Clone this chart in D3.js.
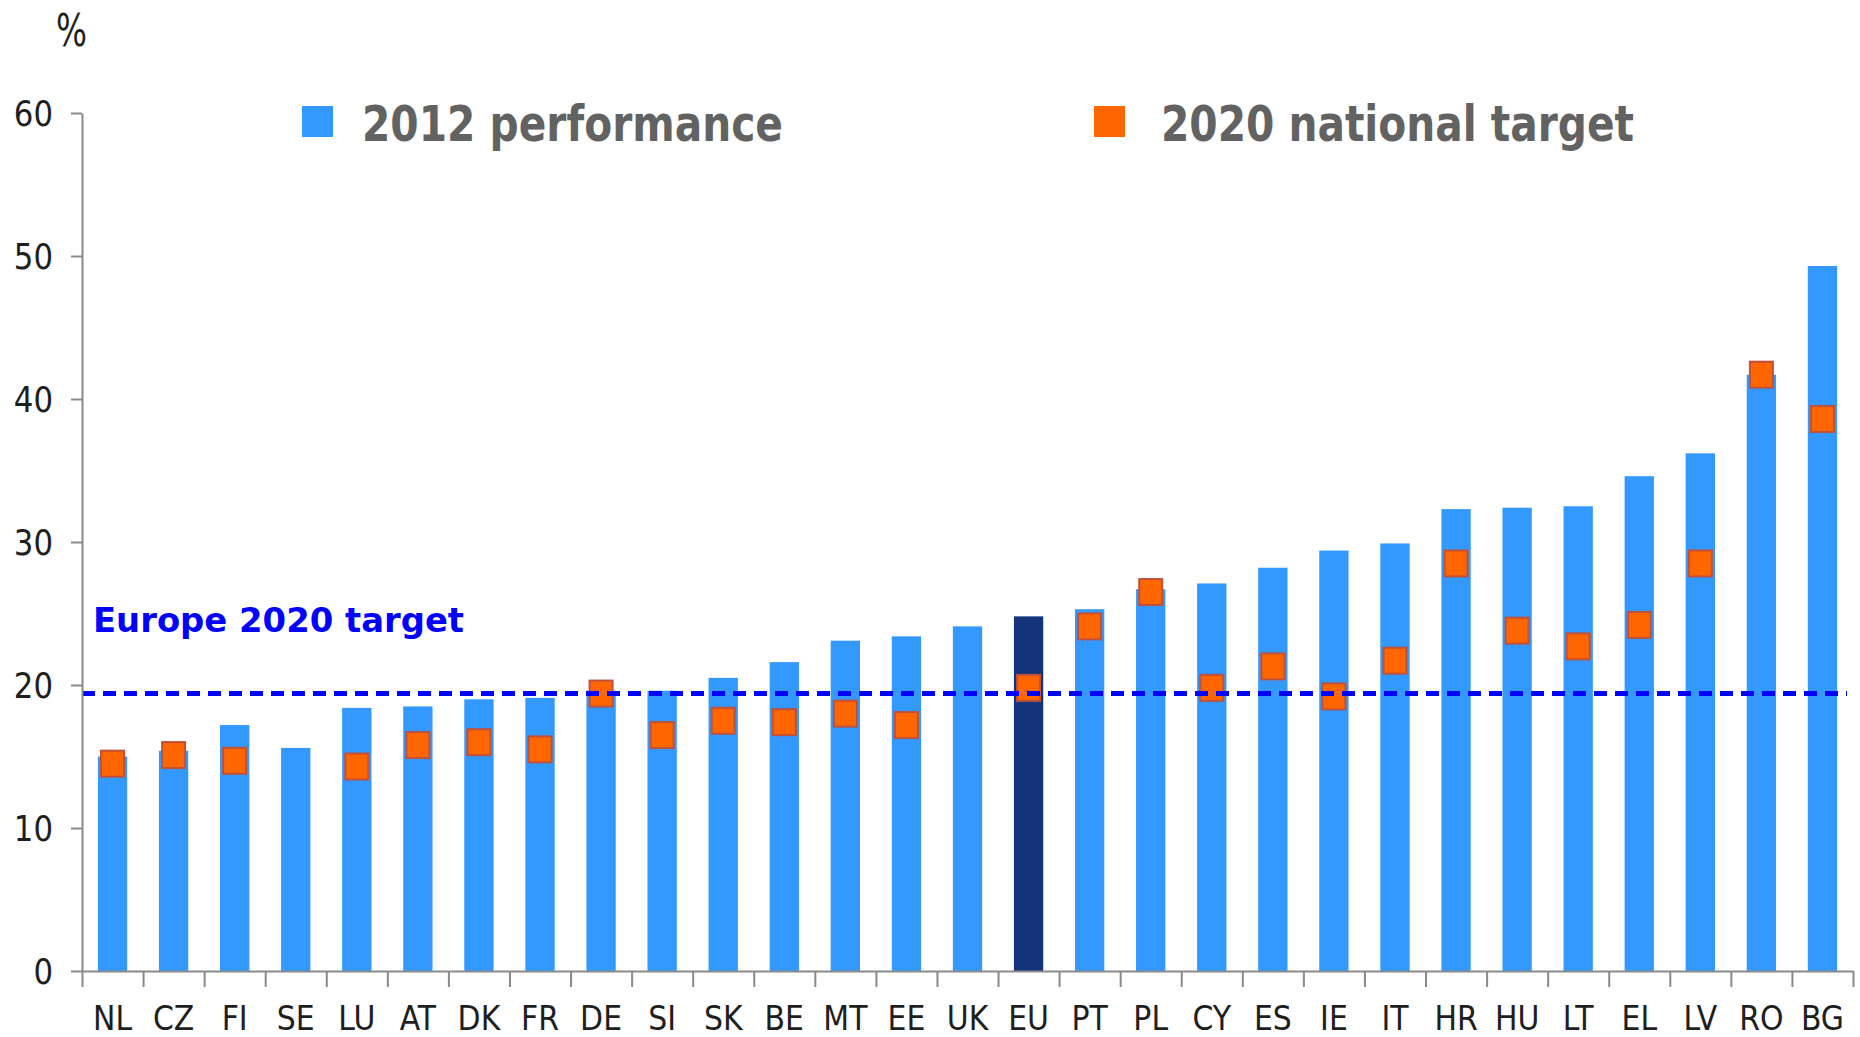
<!DOCTYPE html>
<html><head><meta charset="utf-8">
<script src="https://cdn.jsdelivr.net/npm/d3@7"></script>
<style>body{margin:0;background:#fff}svg{display:block}</style>
</head><body>
<script>
// ---- data ----
const categories = ["NL","CZ","FI","SE","LU","AT","DK","FR","DE","SI","SK","BE","MT","EE","UK","EU","PT","PL","CY","ES","IE","IT","HR","HU","LT","EL","LV","RO","BG"];
const perf2012 = [15.0,15.4,17.2,15.6,18.4,18.5,19.0,19.1,19.6,19.6,20.5,21.6,23.1,23.4,24.1,24.8,25.3,26.7,27.1,28.2,29.4,29.9,32.3,32.4,32.5,34.6,36.2,41.7,49.3];
const target2020 = [14.5,15.1,14.7,null,14.3,15.8,16.0,15.5,19.4,16.5,17.5,17.4,18.0,17.2,null,19.8,24.1,26.5,19.8,21.3,19.2,21.7,28.5,23.8,22.7,24.2,28.5,41.7,38.6];
const europeTarget = 19.4;
const yTicks = [0,10,20,30,40,50,60];
const legendLabels = ["2012 performance","2020 national target"];
const europeLabel = "Europe 2020 target";
const unitLabel = "%";
const highlight = "EU";

// ---- layout ----
const W = 1860, H = 1037;
const m = {left: 82, right: 1853, top: 113, bottom: 971};
const FONT = "'DejaVu Sans', Verdana, sans-serif";
const C = {bar:"#3399ff", eu:"#14337a", mk:"#ff6600", mkStroke:"#c0503a", line:"#0000ff", axis:"#8a8a8a", text:"#1e1e1e", legend:"#626262"};

const svg = d3.select("body").append("svg").attr("width", W).attr("height", H);

const x = d3.scaleBand().domain(categories).range([m.left, m.right]).paddingInner(0.52).paddingOuter(0.26);
const y = d3.scaleLinear().domain([0, 60]).range([m.bottom, m.top]);
const bx = d3.scaleLinear().domain([0, categories.length]).range([m.left, m.right]);

// bars
svg.append("g").selectAll("rect").data(categories).join("rect")
  .attr("x", d => x(d)).attr("width", x.bandwidth())
  .attr("y", (d, i) => y(perf2012[i]))
  .attr("height", (d, i) => y(0) - y(perf2012[i]))
  .attr("fill", d => d === highlight ? C.eu : C.bar);

// target markers
const mkW = 25, mkH = 28;
svg.append("g").selectAll("rect")
  .data(categories.map((c, i) => ({c, v: target2020[i]})).filter(d => d.v != null))
  .join("rect")
  .attr("x", d => x(d.c) + x.bandwidth() / 2 - mkW / 2 + 1)
  .attr("y", d => y(d.v) - mkH / 2 + 1)
  .attr("width", mkW - 2).attr("height", mkH - 2)
  .attr("fill", C.mk).attr("stroke", C.mkStroke).attr("stroke-width", 2);

// Europe 2020 target dashed line
svg.append("line")
  .attr("x1", m.left).attr("x2", m.right - 6)
  .attr("y1", y(europeTarget)).attr("y2", y(europeTarget))
  .attr("stroke", C.line).attr("stroke-width", 5).attr("stroke-dasharray", "13,8");

svg.append("text").text(europeLabel)
  .attr("x", 93).attr("y", 632)
  .attr("font-family", FONT).attr("font-weight", "bold").attr("font-size", 34)
  .attr("fill", C.line).attr("textLength", 371).attr("lengthAdjust", "spacingAndGlyphs");

// y axis
const sxY = 0.88;
const gy = svg.append("g").attr("transform", `translate(${m.left},0)`)
  .call(d3.axisLeft(y).tickValues(yTicks).tickSize(11).tickSizeOuter(0));
gy.select(".domain").attr("stroke", C.axis).attr("stroke-width", 2);
gy.selectAll(".tick line").attr("stroke", C.axis).attr("stroke-width", 2);
gy.selectAll(".tick text")
  .attr("x", -29 / sxY).attr("dy", "0.36em")
  .attr("transform", `scale(${sxY},1)`)
  .attr("font-family", FONT).attr("font-size", 35).attr("fill", C.text);

// x axis: line + boundary ticks
const gxb = svg.append("g").attr("transform", `translate(0,${m.bottom})`)
  .call(d3.axisBottom(bx).tickValues(d3.range(categories.length + 1)).tickSize(16).tickSizeOuter(0).tickFormat(""));
gxb.select(".domain").attr("stroke", C.axis).attr("stroke-width", 2);
gxb.selectAll(".tick line").attr("stroke", C.axis).attr("stroke-width", 2);

// x axis labels
const sxX = 0.88;
const gxl = svg.append("g").attr("transform", `translate(0,${m.bottom})`)
  .call(d3.axisBottom(x).tickSize(0));
gxl.select(".domain").remove();
gxl.selectAll(".tick text")
  .attr("y", 59).attr("dy", 0)
  .attr("transform", `scale(${sxX},1)`)
  .attr("font-family", FONT).attr("font-size", 34).attr("fill", C.text);

// unit label
svg.append("text").text(unitLabel)
  .attr("x", 56).attr("y", 46)
  .attr("font-family", FONT).attr("font-size", 44).attr("fill", C.text)
  .attr("textLength", 31).attr("lengthAdjust", "spacingAndGlyphs");

// legend
const legend = [
  {label: legendLabels[0], color: C.bar, mx: 302, tx: 362, tl: 421},
  {label: legendLabels[1], color: C.mk, mx: 1094, tx: 1161, tl: 473}
];
const lg = svg.append("g").selectAll("g").data(legend).join("g");
lg.append("rect").attr("x", d => d.mx).attr("y", 106).attr("width", 31).attr("height", 31).attr("fill", d => d.color);
lg.append("text").text(d => d.label)
  .attr("x", d => d.tx).attr("y", 141)
  .attr("font-family", FONT).attr("font-weight", "bold").attr("font-size", 49)
  .attr("fill", C.legend)
  .attr("textLength", d => d.tl).attr("lengthAdjust", "spacingAndGlyphs");
</script>
</body></html>
